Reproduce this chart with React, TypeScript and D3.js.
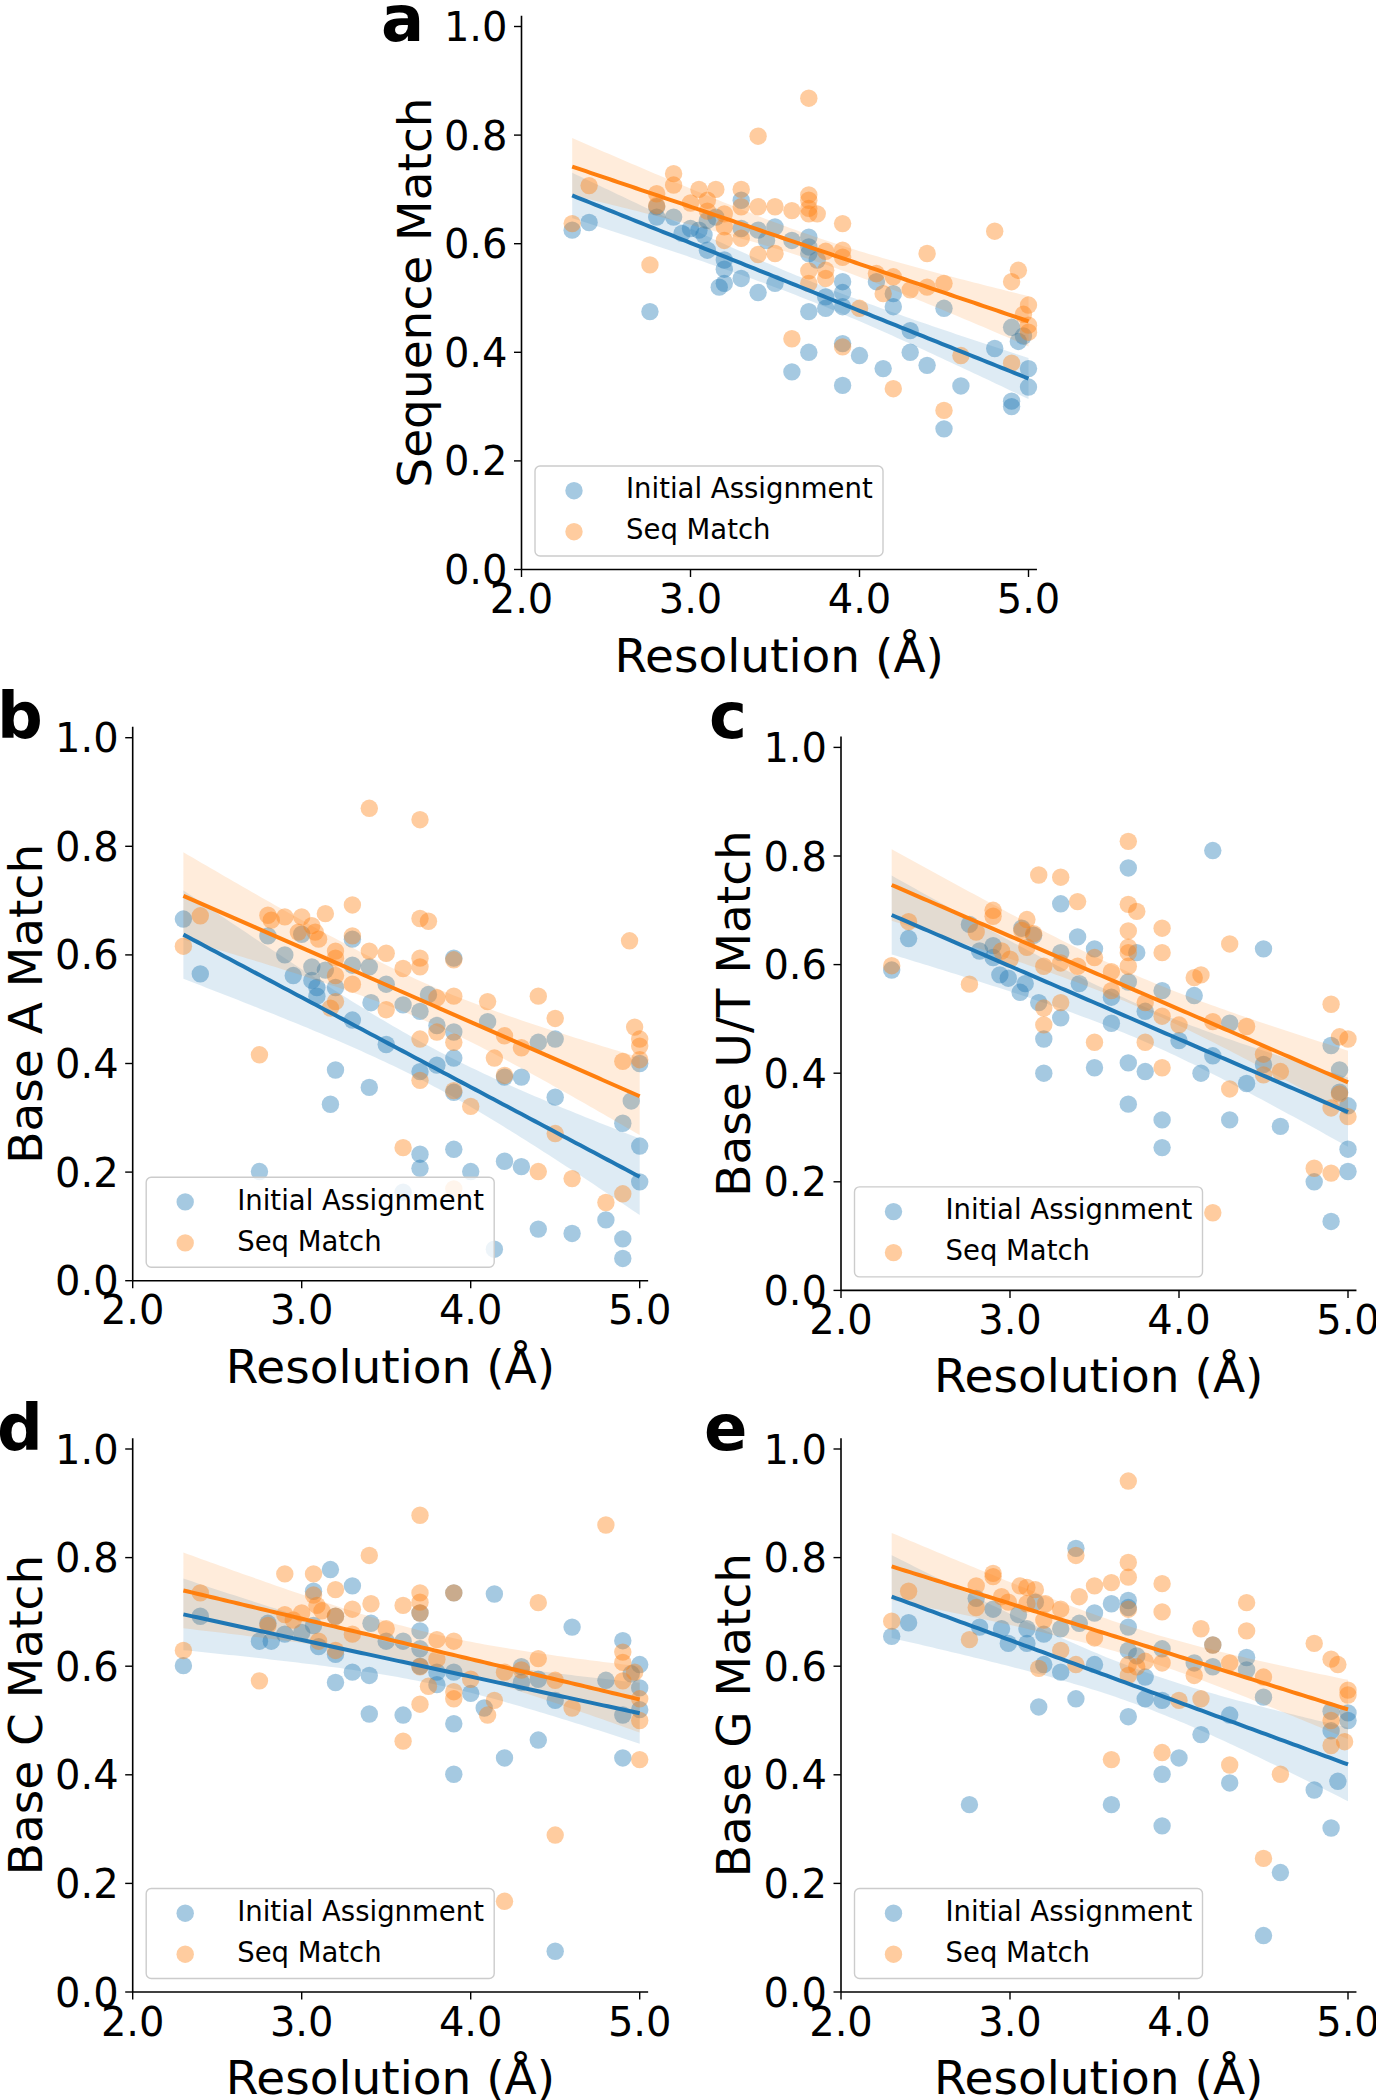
import React from "react";
import * as d3 from "d3";

type P = [number, number];

const xTicks = [2, 3, 4, 5];
const yTicks = [0, 0.2, 0.4, 0.6, 0.8, 1.0];
const seriesNames = ["Initial Assignment", "Seq Match"];
const xLabel = "Resolution (Å)";

const aSeq: P[] = [[2.3,0.637],[2.4,0.707],[2.76,0.561],[2.8,0.692],[2.8,0.67],[2.9,0.729],[2.9,0.708],[3.0,0.675],[3.05,0.70],[3.1,0.68],[3.1,0.66],[3.15,0.70],[3.2,0.655],[3.2,0.631],[3.2,0.606],[3.3,0.70],[3.3,0.668],[3.3,0.61],[3.4,0.798],[3.4,0.668],[3.4,0.58],[3.5,0.668],[3.5,0.582],[3.6,0.661],[3.6,0.425],[3.7,0.868],[3.7,0.69],[3.7,0.68],[3.7,0.665],[3.7,0.655],[3.75,0.655],[3.7,0.55],[3.7,0.527],[3.8,0.586],[3.8,0.551],[3.8,0.536],[3.9,0.637],[3.9,0.588],[3.9,0.575],[3.9,0.41],[4.0,0.481],[4.1,0.545],[4.14,0.508],[4.2,0.539],[4.2,0.333],[4.3,0.515],[4.4,0.582],[4.4,0.52],[4.5,0.527],[4.5,0.293],[4.6,0.394],[4.8,0.623],[4.9,0.53],[4.94,0.551],[4.9,0.38],[5.0,0.487],[4.97,0.47],[5.0,0.45],[5.0,0.437]];
const aInit: P[] = [[2.3,0.625],[2.4,0.639],[2.76,0.475],[2.8,0.668],[2.8,0.649],[2.9,0.649],[2.95,0.619],[3.0,0.628],[3.05,0.625],[3.08,0.616],[3.1,0.588],[3.1,0.643],[3.15,0.649],[3.2,0.57],[3.2,0.553],[3.17,0.52],[3.2,0.527],[3.3,0.68],[3.3,0.628],[3.3,0.536],[3.4,0.51],[3.4,0.625],[3.45,0.606],[3.5,0.631],[3.5,0.527],[3.6,0.606],[3.6,0.364],[3.7,0.612],[3.7,0.594],[3.7,0.582],[3.7,0.475],[3.7,0.40],[3.75,0.57],[3.8,0.502],[3.8,0.481],[3.9,0.53],[3.9,0.51],[3.9,0.484],[3.9,0.416],[3.9,0.339],[4.0,0.394],[4.1,0.53],[4.14,0.37],[4.2,0.484],[4.2,0.508],[4.3,0.44],[4.3,0.40],[4.4,0.376],[4.5,0.481],[4.5,0.259],[4.6,0.338],[4.8,0.407],[4.9,0.446],[4.94,0.42],[4.9,0.31],[4.9,0.30],[5.0,0.37],[5.0,0.336],[4.97,0.43]];

const bSeq: P[] = [[2.3,0.616],[2.4,0.672],[2.75,0.416],[2.8,0.673],[2.82,0.664],[2.9,0.67],[3.0,0.67],[2.98,0.642],[3.06,0.654],[3.08,0.642],[3.1,0.629],[3.14,0.676],[3.2,0.607],[3.2,0.594],[3.2,0.562],[3.2,0.514],[3.17,0.502],[3.3,0.692],[3.3,0.635],[3.3,0.546],[3.4,0.870],[3.4,0.607],[3.5,0.603],[3.5,0.499],[3.6,0.575],[3.6,0.245],[3.7,0.849],[3.7,0.667],[3.75,0.662],[3.7,0.594],[3.7,0.578],[3.7,0.445],[3.7,0.369],[3.8,0.521],[3.8,0.458],[3.9,0.591],[3.9,0.524],[3.9,0.439],[3.9,0.350],[3.9,0.169],[4.0,0.321],[4.1,0.514],[4.14,0.41],[4.2,0.451],[4.2,0.378],[4.3,0.429],[4.4,0.524],[4.4,0.201],[4.5,0.483],[4.5,0.271],[4.6,0.188],[4.8,0.144],[4.9,0.404],[4.9,0.16],[4.94,0.626],[4.97,0.467],[5.0,0.445],[5.0,0.432],[5.0,0.407]];
const bInit: P[] = [[2.3,0.666],[2.4,0.565],[2.75,0.201],[2.8,0.635],[2.9,0.60],[2.95,0.562],[3.0,0.638],[3.06,0.578],[3.06,0.553],[3.09,0.54],[3.09,0.524],[3.14,0.572],[3.2,0.54],[3.2,0.388],[3.17,0.325],[3.3,0.629],[3.3,0.581],[3.3,0.48],[3.4,0.578],[3.4,0.356],[3.41,0.512],[3.5,0.546],[3.5,0.435],[3.6,0.508],[3.6,0.163],[3.7,0.496],[3.7,0.385],[3.7,0.233],[3.7,0.207],[3.75,0.527],[3.8,0.470],[3.8,0.397],[3.9,0.594],[3.9,0.458],[3.9,0.41],[3.9,0.347],[3.9,0.242],[4.0,0.201],[4.1,0.477],[4.2,0.375],[4.2,0.220],[4.14,0.058],[4.3,0.375],[4.3,0.21],[4.4,0.439],[4.4,0.095],[4.5,0.445],[4.5,0.338],[4.6,0.087],[4.8,0.112],[4.9,0.29],[4.9,0.077],[4.9,0.041],[4.95,0.331],[5.0,0.40],[5.0,0.248],[5.0,0.182]];

const cSeq: P[] = [[2.3,0.598],[2.4,0.679],[2.76,0.564],[2.8,0.66],[2.9,0.70],[2.9,0.689],[2.95,0.625],[3.0,0.61],[3.07,0.663],[3.1,0.683],[3.1,0.632],[3.14,0.657],[3.2,0.597],[3.2,0.52],[3.2,0.489],[3.17,0.765],[3.3,0.761],[3.3,0.603],[3.3,0.53],[3.4,0.716],[3.4,0.597],[3.5,0.613],[3.5,0.457],[3.6,0.587],[3.6,0.552],[3.7,0.827],[3.7,0.711],[3.75,0.698],[3.7,0.662],[3.7,0.632],[3.7,0.622],[3.7,0.597],[3.8,0.53],[3.8,0.457],[3.9,0.667],[3.9,0.622],[3.9,0.505],[3.9,0.41],[4.0,0.489],[4.09,0.576],[4.13,0.581],[4.2,0.143],[4.2,0.495],[4.3,0.638],[4.3,0.371],[4.4,0.486],[4.5,0.435],[4.5,0.397],[4.6,0.403],[4.8,0.225],[4.9,0.527],[4.9,0.216],[4.9,0.336],[4.95,0.467],[5.0,0.463],[5.0,0.32],[4.95,0.362]];
const cInit: P[] = [[2.3,0.59],[2.4,0.648],[2.76,0.674],[2.82,0.625],[2.9,0.635],[2.9,0.613],[2.94,0.581],[2.99,0.575],[3.06,0.549],[3.09,0.565],[3.07,0.667],[3.14,0.654],[3.17,0.53],[3.2,0.463],[3.2,0.40],[3.3,0.712],[3.3,0.622],[3.3,0.502],[3.4,0.651],[3.41,0.565],[3.5,0.629],[3.5,0.41],[3.6,0.54],[3.6,0.492],[3.7,0.778],[3.7,0.568],[3.7,0.419],[3.7,0.343],[3.75,0.622],[3.8,0.514],[3.8,0.403],[3.9,0.552],[3.9,0.314],[3.9,0.263],[4.0,0.46],[4.09,0.543],[4.13,0.40],[4.2,0.81],[4.2,0.432],[4.3,0.492],[4.3,0.314],[4.4,0.381],[4.5,0.629],[4.5,0.416],[4.6,0.302],[4.8,0.2],[4.9,0.451],[4.9,0.127],[4.95,0.406],[4.95,0.365],[5.0,0.34],[5.0,0.26],[5.0,0.219]];

const dSeq: P[] = [[2.3,0.629],[2.4,0.735],[2.75,0.573],[2.8,0.675],[2.9,0.77],[2.9,0.695],[2.95,0.685],[3.0,0.698],[3.07,0.77],[3.07,0.731],[3.09,0.712],[3.12,0.702],[3.1,0.646],[3.2,0.741],[3.2,0.692],[3.2,0.629],[3.3,0.705],[3.3,0.659],[3.4,0.804],[3.41,0.715],[3.5,0.669],[3.6,0.712],[3.6,0.462],[3.7,0.878],[3.7,0.735],[3.7,0.718],[3.7,0.698],[3.7,0.599],[3.7,0.53],[3.75,0.563],[3.8,0.649],[3.8,0.613],[3.9,0.735],[3.9,0.646],[3.9,0.553],[3.9,0.54],[4.0,0.576],[4.1,0.51],[4.14,0.537],[4.2,0.167],[4.2,0.589],[4.3,0.593],[4.4,0.717],[4.4,0.614],[4.5,0.574],[4.5,0.289],[4.6,0.523],[4.8,0.86],[4.9,0.626],[4.9,0.607],[4.9,0.573],[4.97,0.589],[5.0,0.54],[5.0,0.50],[5.0,0.428]];
const dInit: P[] = [[2.3,0.601],[2.4,0.692],[2.75,0.646],[2.82,0.646],[2.8,0.679],[2.9,0.659],[3.0,0.662],[3.07,0.738],[3.07,0.675],[3.1,0.636],[3.17,0.778],[3.2,0.692],[3.2,0.622],[3.2,0.57],[3.3,0.748],[3.3,0.589],[3.4,0.583],[3.4,0.512],[3.41,0.679],[3.5,0.646],[3.6,0.646],[3.6,0.51],[3.7,0.698],[3.7,0.665],[3.7,0.632],[3.7,0.6],[3.8,0.589],[3.8,0.566],[3.9,0.735],[3.9,0.589],[3.9,0.494],[3.9,0.401],[4.0,0.55],[4.08,0.523],[4.14,0.733],[4.2,0.431],[4.3,0.599],[4.3,0.57],[4.4,0.464],[4.4,0.576],[4.5,0.537],[4.5,0.075],[4.6,0.672],[4.8,0.574],[4.9,0.647],[4.9,0.51],[4.9,0.431],[4.95,0.586],[5.0,0.603],[5.0,0.56],[5.0,0.52]];

const eSeq: P[] = [[2.3,0.683],[2.4,0.738],[2.76,0.649],[2.8,0.748],[2.8,0.708],[2.9,0.771],[2.9,0.765],[2.95,0.728],[2.99,0.718],[3.06,0.748],[3.1,0.745],[3.15,0.741],[3.1,0.715],[3.21,0.715],[3.2,0.685],[3.17,0.596],[3.3,0.705],[3.3,0.629],[3.39,0.804],[3.41,0.728],[3.5,0.748],[3.5,0.652],[3.39,0.603],[3.6,0.754],[3.6,0.428],[3.7,0.941],[3.7,0.791],[3.7,0.764],[3.7,0.705],[3.7,0.603],[3.7,0.583],[3.75,0.599],[3.8,0.609],[3.9,0.752],[3.9,0.70],[3.9,0.606],[3.9,0.441],[4.0,0.537],[4.09,0.583],[4.13,0.669],[4.13,0.54],[4.2,0.639],[4.3,0.606],[4.3,0.418],[4.4,0.717],[4.4,0.665],[4.5,0.58],[4.5,0.246],[4.6,0.401],[4.8,0.642],[4.9,0.613],[4.94,0.603],[4.9,0.50],[4.9,0.454],[5.0,0.556],[5.0,0.547],[4.98,0.461]];
const eInit: P[] = [[2.3,0.655],[2.4,0.68],[2.76,0.345],[2.8,0.725],[2.82,0.672],[2.9,0.705],[2.95,0.669],[2.99,0.642],[3.05,0.695],[3.1,0.669],[3.1,0.642],[3.15,0.718],[3.2,0.659],[3.2,0.603],[3.17,0.525],[3.3,0.669],[3.3,0.589],[3.39,0.817],[3.39,0.54],[3.41,0.679],[3.5,0.698],[3.5,0.603],[3.6,0.715],[3.6,0.345],[3.7,0.721],[3.7,0.708],[3.7,0.672],[3.7,0.629],[3.7,0.507],[3.75,0.619],[3.8,0.58],[3.8,0.54],[3.9,0.632],[3.9,0.537],[3.9,0.401],[3.9,0.306],[4.0,0.431],[4.09,0.606],[4.13,0.474],[4.2,0.639],[4.2,0.599],[4.3,0.51],[4.3,0.385],[4.4,0.616],[4.4,0.593],[4.5,0.543],[4.5,0.104],[4.6,0.22],[4.8,0.372],[4.9,0.517],[4.9,0.481],[4.9,0.302],[4.94,0.388],[5.0,0.514],[5.0,0.50]];

const BLUE = "#1f77b4";
const ORANGE = "#ff7f0e";
const FONT = "DejaVu Sans, Liberation Sans, sans-serif";
const PX_X = 169;
const PX_Y = 543;

function fit(pts: P[]) {
  const n = pts.length;
  const mx = d3.mean(pts, (p) => p[0]) as number;
  const my = d3.mean(pts, (p) => p[1]) as number;
  let sxx = 0, sxy = 0;
  pts.forEach(([x, y]) => { sxx += (x - mx) ** 2; sxy += (x - mx) * (y - my); });
  const b = sxy / sxx;
  const a = my - b * mx;
  let sse = 0;
  pts.forEach(([x, y]) => { sse += (y - (a + b * x)) ** 2; });
  const s = Math.sqrt(sse / (n - 2));
  const [xmin, xmax] = d3.extent(pts, (p) => p[0]) as [number, number];
  const grid = d3.range(0, 101).map((i) => xmin + ((xmax - xmin) * i) / 100);
  return grid.map((x) => {
    const yh = a + b * x;
    const se = s * Math.sqrt(1 / n + (x - mx) ** 2 / sxx);
    return { x, y: yh, lo: yh - 2.0 * se, hi: yh + 2.0 * se };
  });
}

type PanelProps = {
  letter: string; letterX: number; letterY: number;
  ylabel: string; x0: number; y0: number; init: P[]; seq: P[];
};

function Panel({ letter, letterX, letterY, ylabel, x0, y0, init, seq }: PanelProps) {
  const x = d3.scaleLinear().domain([2, 5.05]).range([x0, x0 + 3.05 * PX_X]);
  const y = d3.scaleLinear().domain([0, 1.02]).range([y0, y0 - 1.02 * PX_Y]);
  const fits = [fit(init), fit(seq)];
  const colors = [BLUE, ORANGE];
  const line = d3.line<any>().x((d) => x(d.x)).y((d) => y(d.y));
  const area = d3.area<any>().x((d) => x(d.x)).y0((d) => y(d.lo)).y1((d) => y(d.hi));
  const r = 8.7;
  const series = [init, seq];
  const left = x(2), right = x(5.05), bottom = y(0), top = y(1.02);
  const lgX = left + 13.5, lgY = bottom - 13.5 - 90;
  return (
    <g>
      {series.map((pts, si) => (
        <g key={si}>
          {pts.map((p, i) => (
            <circle key={i} cx={x(p[0])} cy={y(p[1])} r={r} fill={colors[si]} fillOpacity={0.4} />
          ))}
          <path d={area(fits[si]) || ""} fill={colors[si]} fillOpacity={0.15} />
        </g>
      ))}
      {fits.map((f, si) => (
        <path key={si} d={line(f) || ""} fill="none" stroke={colors[si]} strokeWidth={4} />
      ))}
      <line x1={left} x2={left} y1={top} y2={bottom} stroke="#000" strokeWidth={1.6} />
      <line x1={left} x2={right} y1={bottom} y2={bottom} stroke="#000" strokeWidth={1.6} />
      {yTicks.map((t) => (
        <g key={"y" + t}>
          <line x1={left - 7.5} x2={left} y1={y(t)} y2={y(t)} stroke="#000" strokeWidth={1.4} />
          <text x={left - 14} y={y(t) + 14.5} textAnchor="end" fontSize={40} fontFamily={FONT}>{t.toFixed(1)}</text>
        </g>
      ))}
      {xTicks.map((t) => (
        <g key={"x" + t}>
          <line x1={x(t)} x2={x(t)} y1={bottom} y2={bottom + 7.5} stroke="#000" strokeWidth={1.4} />
          <text x={x(t)} y={bottom + 43.7} textAnchor="middle" fontSize={40} fontFamily={FONT}>{t.toFixed(1)}</text>
        </g>
      ))}
      <text x={(left + right) / 2} y={bottom + 102} textAnchor="middle" fontSize={47} fontFamily={FONT}>{xLabel}</text>
      <text transform={`translate(${left - 91},${(top + bottom) / 2}) rotate(-90)`} textAnchor="middle" fontSize={47} fontFamily={FONT}>{ylabel}</text>
      <text x={letterX} y={letterY} fontSize={64} fontWeight="bold" fontFamily={FONT}>{letter}</text>
      <rect x={lgX} y={lgY} width={348} height={90} rx={5} fill="#fff" fillOpacity={0.8} stroke="#cccccc" strokeWidth={1.4} />
      {seriesNames.map((nm, i) => (
        <g key={nm}>
          <circle cx={lgX + 39} cy={lgY + 24.7 + i * 41} r={r} fill={colors[i]} fillOpacity={0.4} />
          <text x={lgX + 91} y={lgY + 32.3 + i * 41} fontSize={27.5} fontFamily={FONT}>{nm}</text>
        </g>
      ))}
    </g>
  );
}

export default function App() {
  return (
    <svg width={1376} height={2100} style={{ position: "absolute", left: 0, top: 0, background: "#fff" }}>
      <rect width={1376} height={2100} fill="#fff" />
      <Panel letter="a" letterX={381} letterY={41} ylabel="Sequence Match" x0={521.5} y0={569.5} init={aInit} seq={aSeq} />
      <Panel letter="b" letterX={-3} letterY={738} ylabel="Base A Match" x0={132.7} y0={1280.7} init={bInit} seq={bSeq} />
      <Panel letter="c" letterX={709} letterY={738} ylabel="Base U/T Match" x0={841} y0={1290.4} init={cInit} seq={cSeq} />
      <Panel letter="d" letterX={-3} letterY={1450} ylabel="Base C Match" x0={132.7} y0={1992} init={dInit} seq={dSeq} />
      <Panel letter="e" letterX={704} letterY={1450} ylabel="Base G Match" x0={841} y0={1992} init={eInit} seq={eSeq} />
    </svg>
  );
}
